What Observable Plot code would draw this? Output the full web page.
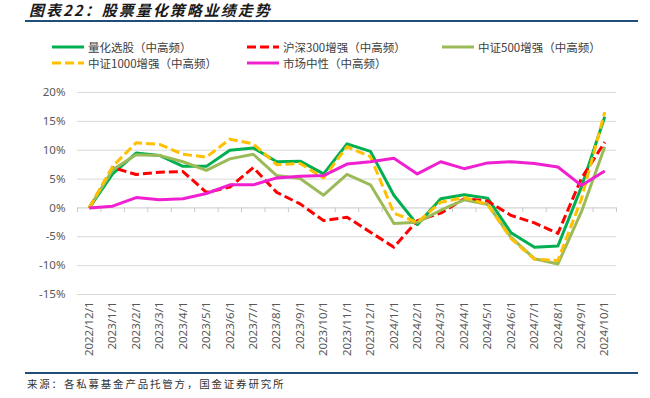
<!DOCTYPE html>
<html>
<head>
<meta charset="utf-8">
<script src="https://cdn.jsdelivr.net/npm/d3@7"></script>
<script src="https://cdn.jsdelivr.net/npm/@observablehq/plot@0.6"></script>
<style>
  body { margin: 0; background: #fff; width: 650px; height: 398px; position: relative; overflow: hidden; font-family: "Noto Sans CJK SC", "Noto Sans", sans-serif; }
  .abs { position: absolute; }
  #title { left: 29px; top: 0px; font-size: 15px; font-weight: bold; font-style: italic; color: #1a1a1a; line-height: 20px; letter-spacing: 2px; }
  .rule { background: #1F4E79; height: 2px; }
  .leg { font-size: 11.5px; color: #404040; line-height: 14px; white-space: nowrap; display: flex; align-items: center; }
  .leg svg { margin-right: 4px; }
  #source { left: 27px; top: 376px; font-size: 10.5px; color: #333; letter-spacing: 1.8px; line-height: 16px; }
  #chart { left: 0; top: 80px; }
</style>
</head>
<body>
<div id="title" class="abs">图表22：股票量化策略业绩走势</div>
<div class="abs rule" style="left:25px; top:20px; width:613px;"></div>
<div id="legend"></div>
<div id="chart" class="abs"></div>
<div class="abs rule" style="left:25px; top:372px; width:613px;"></div>
<div id="source" class="abs">来源：各私募基金产品托管方，国金证券研究所</div>
<script>
const dates = ["2022/12/1","2023/1/1","2023/2/1","2023/3/1","2023/4/1","2023/5/1","2023/6/1","2023/7/1","2023/8/1","2023/9/1","2023/10/1","2023/11/1","2023/12/1","2024/1/1","2024/2/1","2024/3/1","2024/4/1","2024/5/1","2024/6/1","2024/7/1","2024/8/1","2024/9/1","2024/10/1"];
const quantStock = [0, 5.9, 9.5, 9.1, 7.2, 7.2, 10.0, 10.4, 8.0, 8.1, 5.9, 11.1, 9.8, 2.2, -2.9, 1.6, 2.3, 1.7, -4.3, -6.8, -6.6, 3.6, 15.8];
const hs300 = [0, 7.0, 5.8, 6.2, 6.3, 2.7, 3.6, 7.0, 2.7, 0.7, -2.2, -1.6, -4.2, -6.8, -2.2, -0.9, 1.6, 1.2, -1.3, -2.6, -4.4, 5.1, 11.4];
const zz500 = [0, 6.6, 9.2, 9.1, 8.0, 6.5, 8.5, 9.3, 5.6, 5.1, 2.2, 5.8, 4.0, -2.7, -2.5, -0.4, 1.4, 0.6, -5.1, -8.8, -9.7, -0.7, 10.6];
const zz1000 = [0, 7.2, 11.3, 11.0, 9.3, 8.8, 11.9, 11.1, 7.5, 7.7, 5.2, 10.6, 8.9, -0.9, -2.5, 1.0, 1.8, 0.6, -5.3, -8.9, -9.1, 1.5, 16.6];
const neutral = [0, 0.3, 1.8, 1.4, 1.6, 2.5, 4.0, 4.0, 5.2, 5.5, 5.6, 7.6, 8.0, 8.6, 5.9, 8.0, 6.8, 7.8, 8.0, 7.7, 7.1, 3.9, 6.4];
const yTicks = [-15, -10, -5, 0, 5, 10, 15, 20];

const seriesNames = ["量化选股（中高频）", "沪深300增强（中高频）", "中证500增强（中高频）", "中证1000增强（中高频）", "市场中性（中高频）"];
const seriesValues = [quantStock, hs300, zz500, zz1000, neutral];
const seriesColors = ["#00B050", "#FF0000", "#9BBB59", "#FFC000", "#F020D0"];
const seriesDash = [null, "9,4", null, "9,4", null];

// legend
const legendPos = [[52, 40], [247, 40], [442, 40], [52, 56], [247, 56]];
const legend = document.getElementById("legend");
seriesNames.forEach((name, k) => {
  const d = document.createElement("div");
  d.className = "abs leg";
  d.style.left = legendPos[k][0] + "px";
  d.style.top = legendPos[k][1] + "px";
  d.innerHTML = `<svg width="32" height="6"><line x1="0" x2="32" y1="3" y2="3" stroke="${seriesColors[k]}" stroke-width="3" ${seriesDash[k] ? `stroke-dasharray="${seriesDash[k]}"` : ""}/></svg><span>${name}</span>`;
  legend.appendChild(d);
});

const rows = [];
seriesNames.forEach((name, k) => seriesValues[k].forEach((v, i) => rows.push({series: k, i, v})));
const boundaries = dates.map((_, i) => i - 0.5).concat([dates.length - 0.5]);

const lineMarks = seriesNames.map((name, k) =>
  Plot.line(rows.filter(r => r.series === k), {
    x: "i", y: "v",
    stroke: seriesColors[k], strokeWidth: 3,
    strokeDasharray: seriesDash[k] || undefined,
    strokeLinejoin: "round", strokeLinecap: "butt"
  })
);

const chart = Plot.plot({
  width: 650, height: 284,
  marginTop: 12, marginBottom: 70, marginLeft: 77, marginRight: 34,
  style: {fontFamily: "'Noto Sans', sans-serif", fontSize: "11.5px", color: "#595959", background: "transparent"},
  x: {type: "linear", domain: [-0.5, dates.length - 0.5], ticks: dates.map((_, i) => i), tickFormat: i => dates[i], tickRotate: -90, tickSize: 0, tickPadding: 7, label: null},
  y: {domain: [-15, 20], ticks: yTicks, tickFormat: d => d + "%", tickSize: 0, tickPadding: 12, label: null},
  marks: [
    Plot.ruleY(yTicks.filter(t => t !== 0), {stroke: "#d9d9d9", strokeWidth: 1}),
    Plot.ruleY([0], {stroke: "#c8c8c8", strokeWidth: 1}),
    Plot.ruleX(boundaries, {y1: 0, y2: -0.8, stroke: "#c8c8c8", strokeWidth: 1}),
    ...lineMarks
  ]
});
document.getElementById("chart").appendChild(chart);
</script>
</body>
</html>
